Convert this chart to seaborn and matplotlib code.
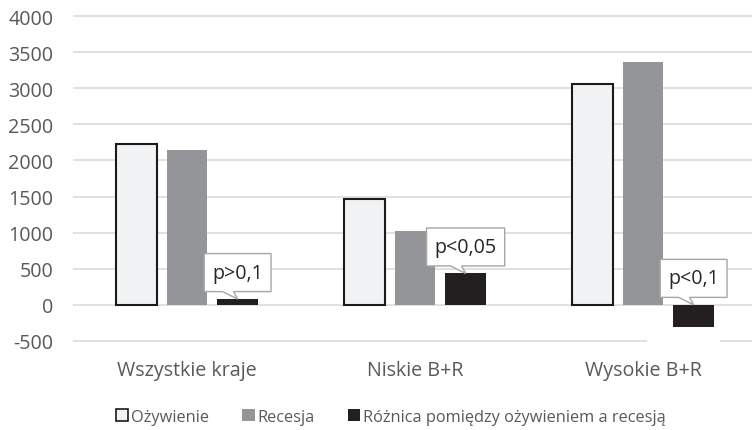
import numpy as np
import pandas as pd
import matplotlib
matplotlib.use("Agg")
import matplotlib.pyplot as plt
import matplotlib.transforms as mtransforms
from matplotlib.patches import Patch, Polygon, Rectangle
import seaborn as sns

# ---- data -------------------------------------------------------------
categories = ["Wszystkie kraje", "Niskie B+R", "Wysokie B+R"]
series = ["Ożywienie", "Recesja", "Różnica pomiędzy ożywieniem a recesją"]
ozywienie = [2230, 1460, 3060]
recesja = [2150, 1025, 3370]
roznica = [80, 435, -310]
p_labels = ["p>0,1", "p<0,05", "p<0,1"]
yticks = [-500, 0, 500, 1000, 1500, 2000, 2500, 3000, 3500, 4000]

colors = ["#F1F2F4", "#939598", "#231F20"]
text_grey = "#595959"

df = pd.DataFrame({
    "kategoria": categories * 3,
    "seria": np.repeat(series, len(categories)),
    "wartosc": ozywienie + recesja + roznica,
})

# ---- style ------------------------------------------------------------
sns.set_style("white")
plt.rcParams["font.family"] = ["Open Sans", "DejaVu Sans"]

W, H, DPI = 752, 431, 100
fig = plt.figure(figsize=(W / DPI, H / DPI), dpi=DPI)
ax_left, ax_right, ax_top, ax_bottom = 73, 752, 16.3, 342.7
ax = fig.add_axes([ax_left / W, 1 - ax_bottom / H,
                   (ax_right - ax_left) / W, (ax_bottom - ax_top) / H])

sns.barplot(data=df, x="kategoria", y="wartosc", hue="seria",
            order=categories, hue_order=series, palette=colors,
            width=0.666, gap=0.2, saturation=1, errorbar=None,
            legend=False, ax=ax)

# outline for the light "Ożywienie" bars
light = matplotlib.colors.to_rgba(colors[0])
dark = matplotlib.colors.to_rgba(colors[2])
diff_bars = []
for p in ax.patches:
    fc = p.get_facecolor()
    if np.allclose(fc, light, atol=0.01):
        p.set_edgecolor("#1a1a1a")
        p.set_linewidth(1.5)
    else:
        p.set_edgecolor("none")
        p.set_linewidth(0)
    if np.allclose(fc, dark, atol=0.01):
        diff_bars.append(p)
diff_bars.sort(key=lambda r: r.get_x())

ax.set_ylim(-510, 4010)
ax.set_xlim(-0.5, 2.5 - 5 / 228)
ax.set_yticks(yticks)
ax.set_yticklabels([str(v) for v in yticks])
ax.grid(axis="y", color="#d9d9d9", linewidth=1.1)
ax.grid(axis="x", visible=False)
ax.set_axisbelow(True)
for s in ax.spines.values():
    s.set_visible(False)
ax.set_xlabel("")
ax.set_ylabel("")
ax.tick_params(axis="y", length=0, pad=14, labelsize=14.2, labelcolor=text_grey)
ax.tick_params(axis="x", length=0, pad=13, labelsize=14.2, labelcolor=text_grey)

# significance callouts above the difference bars
px = 1 / DPI
renderer = fig.canvas.get_renderer()
for bar, val, lab in zip(diff_bars, roznica, p_labels):
    xc = bar.get_x() + bar.get_width() / 2
    ya = max(val, 0)
    trans = fig.dpi_scale_trans + mtransforms.ScaledTranslation(xc, ya, ax.transData)
    t = ax.text(0, 26.5 * px, lab, transform=trans, ha="center", va="center",
                fontsize=14.2, color="#262626", zorder=7)
    tw = t.get_window_extent(renderer).width
    half = tw / 2 + 8
    b, top = 7.5, 45.5
    verts = [(-half, b), (-15, b), (0, 0), (-4, b), (half, b), (half, top), (-half, top)]
    poly = Polygon([(vx * px, vy * px) for vx, vy in verts], closed=True,
                   transform=trans, facecolor="white", edgecolor="#a6a6a6",
                   linewidth=1.0, zorder=6, clip_on=False)
    ax.add_patch(poly)

# blank label area breaking the lowest gridline under the last bar
last = diff_bars[-1]
xc = last.get_x() + last.get_width() / 2
gap_trans = fig.dpi_scale_trans + mtransforms.ScaledTranslation(xc, yticks[0], ax.transData)
ax.add_patch(Rectangle((-47 * px, -4 * px), 73 * px, 8 * px, transform=gap_trans,
                       facecolor="white", edgecolor="none", zorder=0.8))

# legend
handles = [
    Patch(facecolor=colors[0], edgecolor="#1a1a1a", linewidth=1.2),
    Patch(facecolor=colors[1], edgecolor="none"),
    Patch(facecolor=colors[2], edgecolor="none"),
]
fig.legend(handles, series, loc="center", bbox_to_anchor=(391 / W, 1 - 418 / H),
           ncol=3, frameon=False, fontsize=11.8, handlelength=0.75,
           handleheight=0.75, handletextpad=0.2, columnspacing=2.0,
           labelcolor=text_grey)

fig.savefig("out.png", dpi=DPI)
